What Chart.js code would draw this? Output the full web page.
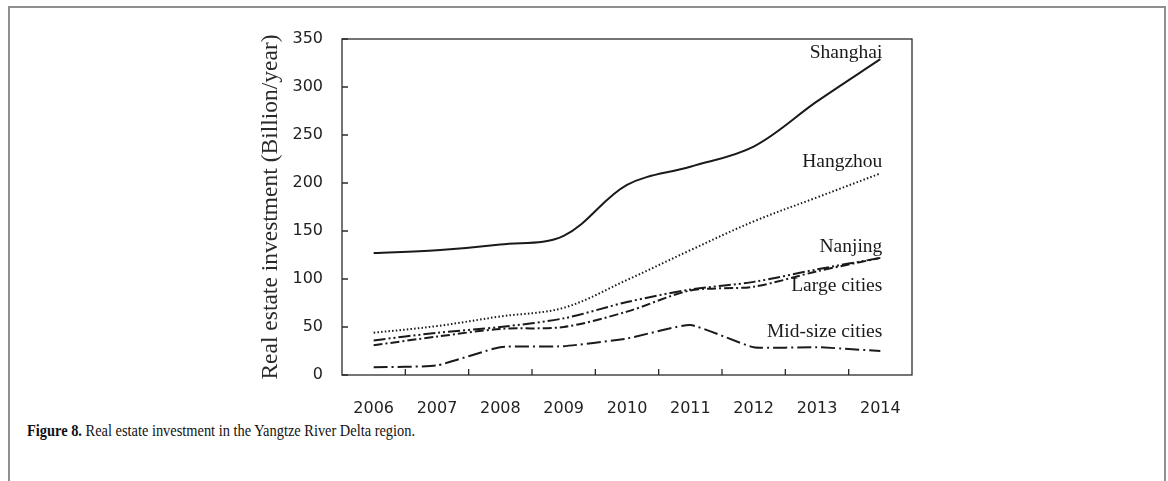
<!DOCTYPE html>
<html>
<head>
<meta charset="utf-8">
<script src="https://cdn.jsdelivr.net/npm/chart.js@4.4.0/dist/chart.umd.min.js"></script>
<style>
  body { margin: 0; background: #fff; width: 1168px; height: 481px; overflow: hidden; position: relative; }
  #frame { position: absolute; left: 8px; top: 6px; width: 1158px; height: 520px; border: 2px solid #8f8f8f; border-bottom: none; box-sizing: border-box; }
  #wrap { position: absolute; left: 0; top: 0; }
  #caption { position: absolute; left: 27px; top: 422px; font-family: "Liberation Serif", serif; font-size: 16px; color: #111; white-space: nowrap; transform: scaleX(0.9); transform-origin: left top; }
</style>
</head>
<body>
<div id="frame"></div>
<div id="wrap"><canvas id="chart" width="1168" height="420"></canvas></div>
<div id="caption"><b>Figure 8.</b> Real estate investment in the Yangtze River Delta region.</div>
<script>
const years = ['2006', '2007', '2008', '2009', '2010', '2011', '2012', '2013', '2014'];
const seriesNames = ['Shanghai', 'Hangzhou', 'Nanjing', 'Large cities', 'Mid-size cities'];

const shanghai = [127, 130, 136, 145, 198, 217, 238, 285, 329];
const hangzhou = [44, 51, 61, 70, 99, 130, 160, 185, 210];
const nanjing = [36, 44, 50, 59, 76, 89, 97, 110, 122];
const largeCities = [31, 40, 48, 50, 66, 88, 92, 108, 122];
const midSizeCities = [8, 10, 29, 30, 38, 52, 29, 29, 25];

// value where each end label sits (baseline)
const labelValues = [330, 217, 128, 87, 40];

const axisColor = '#2b2b2b';
const lineColor = '#1a1a1a';

function makeDataset(label, data, dash, tension) {
    return {
        label: label,
        data: data,
        borderColor: lineColor,
        borderWidth: 2,
        borderDash: dash,
        borderCapStyle: 'butt',
        tension: tension,
        pointRadius: 0,
        fill: false
    };
}

// box round the plot, inward ticks and the labels at the line ends
const framePlugin = {
    id: 'frame',
    afterDraw(chart) {
        const ctx = chart.ctx;
        const a = chart.chartArea;
        const x = chart.scales.x;
        const y = chart.scales.y;
        ctx.save();
        ctx.strokeStyle = axisColor;
        ctx.lineWidth = 1.3;
        ctx.strokeRect(a.left, a.top, a.right - a.left, a.bottom - a.top);

        ctx.beginPath();
        y.ticks.forEach((t, i) => {
            const py = y.getPixelForTick(i);
            ctx.moveTo(a.left, py);
            ctx.lineTo(a.left + 6, py);
        });
        for (let i = 1; i < years.length; i++) {
            const px = (x.getPixelForValue(i - 1) + x.getPixelForValue(i)) / 2;
            ctx.moveTo(px, a.bottom);
            ctx.lineTo(px, a.bottom - 6);
        }
        ctx.stroke();

        ctx.font = '19.5px "Liberation Serif"';
        ctx.textAlign = 'right';
        ctx.textBaseline = 'alphabetic';
        ctx.fillStyle = '#1a1a1a';
        const lastX = x.getPixelForValue(years.length - 1) + 2;
        seriesNames.forEach((name, i) => {
            ctx.fillText(name, lastX, y.getPixelForValue(labelValues[i]));
        });
        ctx.restore();
    }
};

const tickFont = { family: 'DejaVu Sans', size: 16 };

const ctx = document.getElementById('chart').getContext('2d');
const chart = new Chart(ctx, {
    type: 'line',
    data: {
        labels: years,
        datasets: [
            makeDataset(seriesNames[0], shanghai, [], 0.35),
            makeDataset(seriesNames[1], hangzhou, [1.5, 2.2], 0.35),
            makeDataset(seriesNames[2], nanjing, [12, 3, 2, 3, 2, 3], 0.3),
            makeDataset(seriesNames[3], largeCities, [9, 3, 2, 3], 0.3),
            makeDataset(seriesNames[4], midSizeCities, [14, 4, 2, 4], 0.15)
        ]
    },
    options: {
        responsive: false,
        animation: false,
        layout: { padding: { left: 253, right: 256, top: 39, bottom: 0 } },
        plugins: {
            legend: { display: false },
            tooltip: { enabled: false }
        },
        scales: {
            x: {
                offset: true,
                grid: { display: false },
                border: { display: false },
                ticks: { font: tickFont, color: '#222', padding: 16, maxRotation: 0 },
                afterFit(scale) { scale.height = 45; }
            },
            y: {
                min: 0,
                max: 350,
                grid: { display: false },
                border: { display: false },
                ticks: { stepSize: 50, font: tickFont, color: '#222', padding: 11 },
                title: {
                    display: true,
                    text: 'Real estate investment (Billion/year)',
                    font: { family: 'Liberation Serif', size: 23.5 },
                    color: '#2a2a2a',
                    padding: { top: 4, bottom: 4 }
                },
                afterFit(scale) { scale.width = 89; }
            }
        }
    },
    plugins: [framePlugin]
});
</script>
</body>
</html>
